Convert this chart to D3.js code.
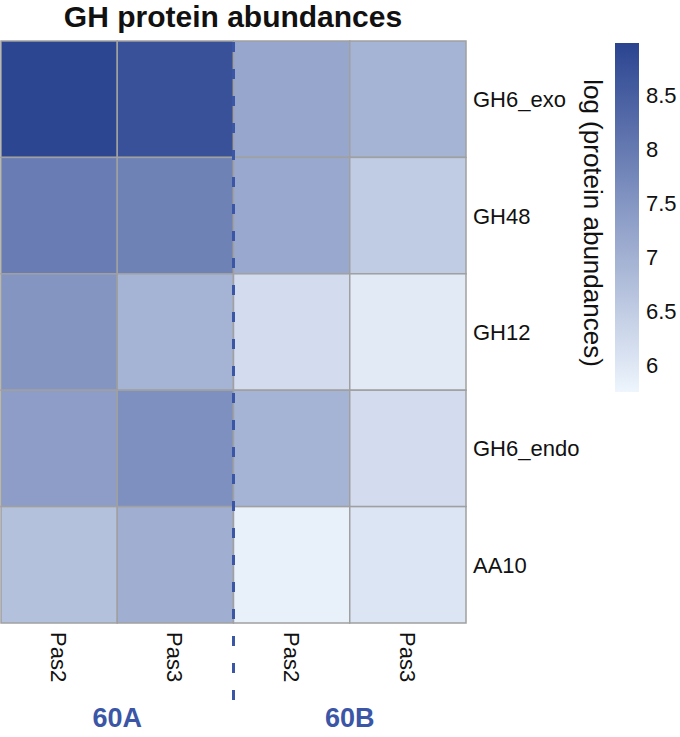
<!DOCTYPE html>
<html><head><meta charset="utf-8">
<script src="https://cdn.jsdelivr.net/npm/d3@7"></script>
<style>body{margin:0;background:#fff}svg{display:block;font-family:"Liberation Sans",Arial,sans-serif}</style>
</head><body><svg id="c" width="680" height="737"></svg>
<script>
const rows = ["GH6_exo","GH48","GH12","GH6_endo","AA10"];
const cols = ["60A_Pas2","60A_Pas3","60B_Pas2","60B_Pas3"];
const colLabels = ["Pas2","Pas3","Pas2","Pas3"];
const groups = ["60A","60B"];
const vGH6_exo  = [8.95, 8.75, 7.2, 6.95];
const vGH48     = [7.95, 7.85, 7.15, 6.5];
const vGH12     = [7.5, 6.95, 6.2, 5.95];
const vGH6_endo = [7.35, 7.6, 6.95, 6.2];
const vAA10     = [6.7, 7.05, 5.85, 6.05];
const values = [vGH6_exo, vGH48, vGH12, vGH6_endo, vAA10];
const legendTicks = [6, 6.5, 7, 7.5, 8, 8.5];
const domain = [5.75, 8.98];

const svg = d3.select("#c");
const x = d3.scaleBand().domain(cols).range([1, 466]);
const y = d3.scaleBand().domain(rows).range([41, 623]);
const color = d3.scaleLinear().domain(domain).range(["#eef5fd", "#2a4490"]).interpolate(d3.interpolateRgb).clamp(true);

const cells = [];
rows.forEach((r, i) => cols.forEach((c, j) => cells.push({r, c, v: values[i][j]})));
svg.append("g").selectAll("rect").data(cells).join("rect")
  .attr("x", d => x(d.c)).attr("y", d => y(d.r))
  .attr("width", x.bandwidth()).attr("height", y.bandwidth())
  .attr("fill", d => color(d.v)).attr("stroke", "#a0a0a0").attr("stroke-width", 1.5);

// title
svg.append("text").attr("x", 233).attr("y", 27).attr("text-anchor", "middle")
  .attr("font-size", 30).attr("font-weight", "bold").attr("fill", "#111").text("GH protein abundances");

// row labels
svg.append("g").selectAll("text").data(rows).join("text")
  .attr("x", 473).attr("y", d => y(d) + y.bandwidth() / 2 + 8)
  .attr("font-size", 22).attr("fill", "#111").text(d => d);

// column labels rotated
svg.append("g").selectAll("text").data(cols).join("text")
  .attr("transform", d => `translate(${x(d) + x.bandwidth() / 2 - 8},632) rotate(90)`)
  .attr("font-size", 22).attr("fill", "#111").text((d, i) => colLabels[i]);

// divider dashed line
svg.append("line").attr("x1", x(cols[2])).attr("x2", x(cols[2])).attr("y1", 42).attr("y2", 702)
  .attr("stroke", "#3a56a5").attr("stroke-width", 3).attr("stroke-dasharray", "10,17");

// group labels
svg.append("g").selectAll("text").data(groups).join("text")
  .attr("x", (d, i) => (x(cols[i * 2]) + x(cols[i * 2 + 1]) + x.bandwidth()) / 2)
  .attr("y", 727).attr("text-anchor", "middle").attr("font-size", 27).attr("font-weight", "bold")
  .attr("fill", "#3b56a6").text(d => d);

// colorbar
const ly = d3.scaleLinear().domain(domain).range([392, 43]);
const defs = svg.append("defs");
const grad = defs.append("linearGradient").attr("id", "g").attr("x1", 0).attr("x2", 0).attr("y1", 1).attr("y2", 0);
d3.range(0, 1.0001, 0.1).forEach(t => grad.append("stop").attr("offset", t)
  .attr("stop-color", color(domain[0] + t * (domain[1] - domain[0]))));
svg.append("rect").attr("x", 615).attr("y", 43).attr("width", 24).attr("height", 349).attr("fill", "url(#g)");
svg.append("g").selectAll("text").data(legendTicks).join("text")
  .attr("x", 646).attr("y", d => ly(d) + 8).attr("font-size", 22).attr("fill", "#111").text(d => d);
svg.append("text").attr("transform", "translate(584,223) rotate(90)").attr("text-anchor", "middle")
  .attr("font-size", 26).attr("fill", "#111").text("log (protein abundances)");
</script></body></html>
